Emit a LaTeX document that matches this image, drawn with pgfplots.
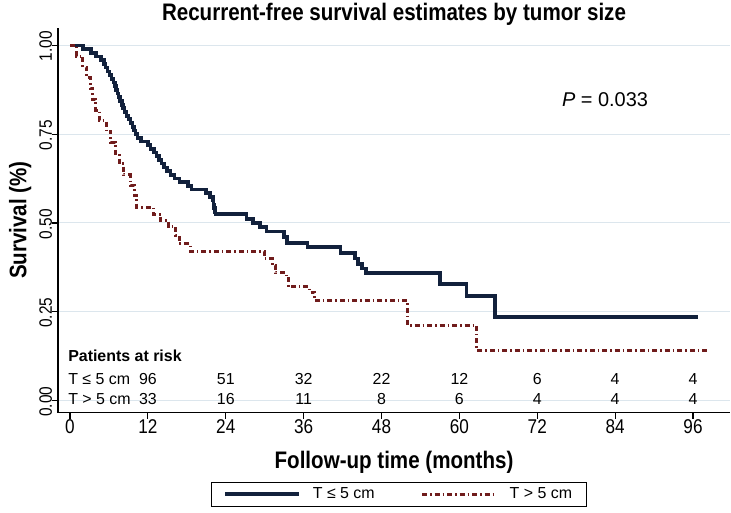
\documentclass[border=0pt]{standalone}
\usepackage{fontspec}
\setmainfont{Liberation Sans}
\newfontfamily\nf{Liberation Sans}[FakeStretch=0.86]
\usepackage{pgfplots}
\pgfplotsset{compat=1.18}
\definecolor{navyk}{RGB}{18,33,60}
\definecolor{maroonk}{RGB}{112,28,28}
\definecolor{gridc}{RGB}{220,230,237}
\tikzset{rt/.style={anchor=base, inner sep=0pt, font=\fontsize{16}{19}\selectfont}}
\begin{document}
\begin{tikzpicture}
\begin{axis}[name=ax, scale only axis, width=672bp, height=385bp,
  xmin=-1.85, xmax=101.7, ymin=-0.0338, ymax=1.05,
  axis x line=bottom, axis y line=left,
  axis line style={-, line width=1.2bp, black},
  tick align=outside, major tick length=6bp,
  tick style={black, line width=1.2bp},
  xtick={0,12,...,96}, ytick={0,0.25,0.5,0.75,1},
  yticklabels={0.00,0.25,0.50,0.75,1.00},
  /pgf/number format/assume math mode=true,
  xticklabel style={font=\nf\fontsize{20}{22}\selectfont, anchor=base, yshift=-15bp},
  yticklabel style={font=\nf\fontsize{18}{20}\selectfont, rotate=90, anchor=base, xshift=-1bp},
  ymajorgrids, grid style={gridc, line width=1bp},
  title={Recurrent-free survival estimates by tumor size},
  title style={font=\nf\bfseries\fontsize{24}{26}\selectfont, at={(axis description cs:0.5,1.0026)}, anchor=base},
  xlabel={Follow-up time (months)},
  ylabel={Survival (\%)},
  xlabel style={font=\nf\bfseries\fontsize{24}{26}\selectfont, at={(axis description cs:0.5,-0.1455)}, anchor=base},
  ylabel style={font=\nf\bfseries\fontsize{24}{26}\selectfont, at={(axis description cs:-0.0469,0.5)}, anchor=base},
  clip=false,
  legend style={at={(0.507,-0.2117)}, anchor=center, legend columns=2,
    draw=black, line width=0.8bp, font=\fontsize{16}{19}\selectfont,
    inner xsep=12bp, inner ysep=4bp,
    /tikz/every even column/.append style={column sep=44bp}},
  legend image code/.code={\draw[#1] (0bp,0bp) -- (74bp,0bp); \path (84bp,0bp);},
]
\addplot[const plot, navyk, line width=3.6bp] coordinates {
(0,1.000) (2.0,0.990) (3.2,0.979) (4.0,0.969) (4.8,0.958) (5.2,0.948)
(5.5,0.938) (5.8,0.927) (6.1,0.917) (6.4,0.906) (6.7,0.896) (6.9,0.885)
(7.1,0.875) (7.3,0.865) (7.5,0.854) (7.7,0.844) (8.0,0.833) (8.2,0.823)
(8.4,0.813) (8.7,0.802) (9.0,0.792) (9.3,0.781) (9.6,0.771) (9.9,0.760)
(10.1,0.750) (10.4,0.740) (10.9,0.729) (12.0,0.719) (12.4,0.708) (12.9,0.698)
(13.3,0.688) (13.7,0.677) (14.1,0.667) (14.5,0.656) (14.9,0.646) (15.5,0.635)
(16.1,0.625) (16.9,0.615) (18.2,0.604) (18.7,0.594) (21.0,0.584) (21.6,0.573)
(22.0,0.563) (22.1,0.552) (22.2,0.542) (22.3,0.531) (22.4,0.525)
(27.2,0.512) (28.2,0.500) (29.3,0.488) (30.3,0.476) (33.0,0.460) (33.4,0.444)
(36.6,0.432) (41.7,0.416) (43.9,0.400) (44.4,0.385) (45.0,0.372) (45.6,0.360)
(57.0,0.329) (61.1,0.294) (65.5,0.235) (96.8,0.235)
};
\addlegendentry{T ≤ 5 cm}
\addplot[const plot, maroonk, line width=3bp,
  dash pattern=on 5bp off 3bp on 1.5bp off 3bp] coordinates {
(0,1.000) (1.0,0.970) (2.0,0.939) (2.6,0.909) (3.1,0.879) (3.5,0.848)
(4.0,0.818) (4.5,0.788) (5.6,0.758) (6.3,0.727) (7.0,0.697) (7.6,0.667)
(8.3,0.636) (9.3,0.606) (9.9,0.576) (10.3,0.545) (12.8,0.525) (14.0,0.507)
(15.2,0.490) (16.3,0.465) (16.8,0.441) (18.5,0.420) (29.9,0.400) (31.2,0.380)
(31.7,0.360) (33.3,0.345) (33.6,0.320) (36.9,0.305) (37.7,0.282)
(52.0,0.211) (62.7,0.141) (98.6,0.141)
};
\addlegendentry{T > 5 cm}
\node[anchor=base west, inner sep=0pt, font=\fontsize{20}{24}\selectfont]
  at (axis cs:75.8,0.828) {\textit{P} = 0.033};
\node[anchor=base west, inner sep=0pt, font=\bfseries\fontsize{16}{19}\selectfont]
  at (axis cs:-0.3,0.111) {Patients at risk};
\node[anchor=base west, inner sep=0pt, font=\fontsize{16}{19}\selectfont]
  at (axis cs:-0.3,0.044) {T ≤ 5 cm};
\node[anchor=base west, inner sep=0pt, font=\fontsize{16}{19}\selectfont]
  at (axis cs:-0.3,-0.011) {T > 5 cm};
\node[rt] at (axis cs:12,0.044) {96};
\node[rt] at (axis cs:24,0.044) {51};
\node[rt] at (axis cs:36,0.044) {32};
\node[rt] at (axis cs:48,0.044) {22};
\node[rt] at (axis cs:60,0.044) {12};
\node[rt] at (axis cs:72,0.044) {6};
\node[rt] at (axis cs:84,0.044) {4};
\node[rt] at (axis cs:96,0.044) {4};
\node[rt] at (axis cs:12,-0.011) {33};
\node[rt] at (axis cs:24,-0.011) {16};
\node[rt] at (axis cs:36,-0.011) {11};
\node[rt] at (axis cs:48,-0.011) {8};
\node[rt] at (axis cs:60,-0.011) {6};
\node[rt] at (axis cs:72,-0.011) {4};
\node[rt] at (axis cs:84,-0.011) {4};
\node[rt] at (axis cs:96,-0.011) {4};
\end{axis}
\path[use as bounding box] ([xshift=-58bp,yshift=-100bp]ax.south west) rectangle ([xshift=673bp,yshift=407bp]ax.south west);
\end{tikzpicture}
\end{document}
